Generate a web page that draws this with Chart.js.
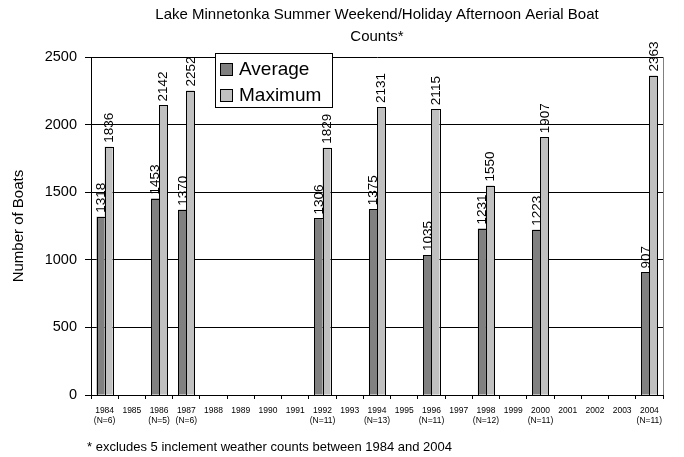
<!DOCTYPE html>
<html><head><meta charset="utf-8">
<script src="https://cdn.jsdelivr.net/npm/chart.js@4/dist/chart.umd.min.js"></script>
<style>html,body{margin:0;padding:0;background:#fff}#wrap{width:684px;height:457px;position:relative}</style>
</head><body><div id="wrap"><canvas id="c" width="684" height="457"></canvas></div>
<script>
const years = ['1984','1985','1986','1987','1988','1989','1990','1991','1992','1993','1994','1995','1996','1997','1998','1999','2000','2001','2002','2003','2004'];
const sampleSizes = [6,null,5,6,null,null,null,null,11,null,13,null,11,null,12,null,11,null,null,null,11];
const averageCounts = [1318,null,1453,1370,null,null,null,null,1306,null,1375,null,1035,null,1231,null,1223,null,null,null,907];
const maximumCounts = [1836,null,2142,2252,null,null,null,null,1829,null,2131,null,2115,null,1550,null,1907,null,null,null,2363];
const yTicks = [0,500,1000,1500,2000,2500];
const titleLines = ['Lake Minnetonka Summer Weekend/Holiday Afternoon Aerial Boat','Counts*'];
const footnote = '* excludes 5 inclement weather counts between 1984 and 2004';

const FONT = '"Liberation Sans", Arial, sans-serif';
const labels = years.map((y,i)=> sampleSizes[i] ? [y, '(N=' + sampleSizes[i] + ')'] : y);

const valueLabels = {
  id:'valueLabels',
  afterDatasetsDraw(chart){
    const ctx = chart.ctx;
    ctx.save();
    // crisp bar outlines from the library's bar elements
    ctx.strokeStyle = '#000';
    ctx.lineWidth = 1;
    chart.data.datasets.forEach((ds,i)=>{
      const meta = chart.getDatasetMeta(i);
      meta.data.forEach((bar,j)=>{
        if (ds.data[j] == null) return;
        const x0 = Math.round(bar.x - bar.width/2), x1 = Math.round(bar.x + bar.width/2);
        const y0 = Math.round(bar.y), y1 = Math.round(bar.base);
        ctx.strokeRect(x0 + 0.5, y0 + 0.5, x1 - x0 - 1 + (i === 1 ? 1 : 1), y1 - y0);
      });
    });
    ctx.font = '13.5px ' + FONT;
    ctx.fillStyle = '#000';
    chart.data.datasets.forEach((ds,i)=>{
      const meta = chart.getDatasetMeta(i);
      meta.data.forEach((bar,j)=>{
        const v = ds.data[j];
        if (v == null) return;
        ctx.save();
        ctx.translate(bar.x + 0.5, bar.y - 4);
        ctx.rotate(-Math.PI/2);
        ctx.textAlign = 'left';
        ctx.textBaseline = 'middle';
        ctx.fillText(String(v), 0, 0);
        ctx.restore();
      });
    });
    ctx.restore();
  }
};

const frameAndLegend = {
  id:'frameAndLegend',
  afterDraw(chart){
    const ctx = chart.ctx, a = chart.chartArea;
    ctx.save();
    ctx.strokeStyle = '#808080'; ctx.lineWidth = 1;
    ctx.beginPath(); ctx.moveTo(Math.round(a.right)+0.5, a.top); ctx.lineTo(Math.round(a.right)+0.5, a.bottom); ctx.stroke();
    const lx = Math.round(a.left) + 124, ly = Math.round(a.top) - 4, lw = 117, lh = 54;
    ctx.fillStyle = '#fff';
    ctx.fillRect(lx, ly, lw, lh);
    ctx.strokeStyle = '#000';
    ctx.strokeRect(lx + 0.5, ly + 0.5, lw, lh);
    ctx.font = '19px ' + FONT;
    ctx.textBaseline = 'middle';
    ctx.textAlign = 'left';
    chart.data.datasets.forEach((ds,i)=>{
      const cy = ly + 16 + i*26;
      ctx.fillStyle = ds.backgroundColor;
      ctx.fillRect(lx + 5, cy - 6, 13, 13);
      ctx.strokeStyle = '#000';
      ctx.strokeRect(lx + 5.5, cy - 5.5, 12, 12);
      ctx.fillStyle = '#000';
      ctx.fillText(ds.label, lx + 24, cy + 1);
    });
    ctx.font = '13px ' + FONT;
    ctx.fillStyle = '#000';
    ctx.fillText(footnote, 87, 447);
    ctx.restore();
  }
};

new Chart(document.getElementById('c'), {
  type:'bar',
  data:{
    labels: labels,
    datasets:[
      {label:'Average', data: averageCounts, backgroundColor:'#808080', borderWidth:0},
      {label:'Maximum', data: maximumCounts, backgroundColor:'#C0C0C0', borderWidth:0}
    ]
  },
  options:{
    responsive:false,
    devicePixelRatio:1,
    animation:false,
    layout:{padding:{left:0,right:21,top:0,bottom:0}},
    datasets:{bar:{categoryPercentage:0.59, barPercentage:1.0}},
    plugins:{
      legend:{display:false},
      tooltip:{enabled:false},
      title:{display:true, fullSize:false, text:titleLines, color:'#000',
        font:{family:FONT, size:15, weight:'normal', lineHeight:1.47},
        padding:{top:4, bottom:9}}
    },
    scales:{
      x:{
        offset:true,
        grid:{display:true, offset:true, drawOnChartArea:false, drawTicks:true, tickLength:4, color:'#000'},
        border:{display:true, color:'#000'},
        ticks:{autoSkip:false, maxRotation:0, minRotation:0, padding:6, color:'#000',
          font:{family:FONT, size:8.5, lineHeight:1.25}},
        afterFit(s){ s.height = 62; }
      },
      y:{
        min:0, max:2500,
        afterBuildTicks(s){ s.ticks = yTicks.map(v=>({value:v})); },
        grid:{color:'#000', tickLength:6, tickColor:'#000'},
        border:{display:true, color:'#000'},
        ticks:{padding:8, color:'#000', font:{family:FONT, size:14.5}, callback:(v)=>String(v)},
        title:{display:true, text:'Number of Boats', color:'#000', font:{family:FONT, size:15}, padding:{top:10,bottom:0}},
        afterFit(s){ s.width = 91; }
      }
    }
  },
  plugins:[valueLabels, frameAndLegend]
});
</script></body></html>
